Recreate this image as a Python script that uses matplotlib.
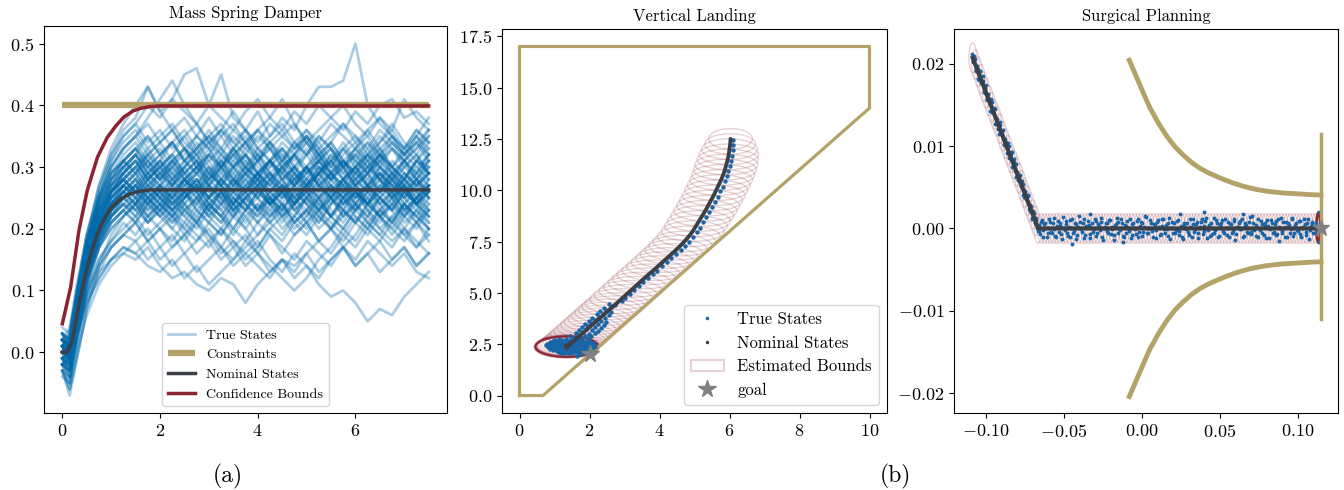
import matplotlib
matplotlib.use('Agg')
from matplotlib import pyplot as plt
from matplotlib.patches import Ellipse, Patch
from matplotlib.lines import Line2D
import numpy as np

plt.rcParams['font.family'] = ['cmr10']
plt.rcParams['mathtext.fontset'] = 'cm'
plt.rcParams['axes.formatter.use_mathtext'] = True

BLUE = '#0069aa'
DOT_BLUE = '#1a64a8'
GOLD = '#b3a369'
GRAY = '#3b4047'
RED = '#8b2332'
STAR = '#808080'

# ---------------- mass spring damper (values x 0.01) ----------------
msd_t = [0, 0.15, 0.3, 0.5, 0.75, 1.0, 1.25, 1.5, 1.75, 2.0, 2.25, 2.5, 2.75, 3.0, 3.25, 3.5,
         3.75, 4.0, 4.25, 4.5, 4.75, 5.0, 5.25, 5.5, 5.75, 6.0, 6.25, 6.5, 6.75, 7.0, 7.25, 7.5]
msd_true = [
    [2, 1, 8, 16, 23, 28, 31, 33, 35, 32, 34, 36, 33, 35, 37, 34, 36, 33, 35, 38, 36, 40, 43, 43, 44, 50, 40, 37, 35, 33, 36, 34],
    [0, 3, 10, 19, 26, 32, 36, 38, 43, 39, 41, 45, 46, 40, 45, 38, 36, 39, 35, 37, 34, 36, 33, 35, 37, 34, 36, 33, 35, 32, 34, 36],
    [-2, -5, 2, 8, 12, 15, 17, 16, 18, 15, 17, 19, 16, 18, 15, 17, 14, 16, 13, 15, 12, 14, 11, 9, 10, 8, 5, 7, 6, 9, 11, 13],
    [-3, -6, 0, 6, 11, 14, 16, 15, 17, 14, 12, 13, 11, 10, 12, 11, 8, 11, 13, 15, 14, 16, 13, 15, 17, 14, 16, 18, 15, 17, 14, 16],
    [1, -2, 4, 10, 14, 17, 19, 18, 20, 17, 19, 16, 18, 20, 17, 15, 18, 16, 19, 17, 15, 18, 16, 14, 17, 15, 18, 16, 14, 16, 13, 12],
    [3, 2, 9, 18, 25, 31, 35, 37, 40, 38, 41, 39, 37, 40, 38, 36, 39, 41, 38, 36, 39, 37, 40, 38, 36, 39, 37, 40, 41, 38, 39, 37],
    [0, -1, 6, 14, 21, 26, 29, 31, 28, 30, 32, 29, 31, 27, 30, 33, 30, 28, 31, 29, 32, 30, 27, 29, 31, 28, 30, 32, 29, 31, 28, 30],
    [-1, -3, 4, 12, 18, 23, 26, 28, 25, 27, 29, 26, 28, 25, 27, 24, 27, 29, 26, 28, 25, 27, 29, 26, 24, 27, 25, 28, 26, 29, 27, 25],
    [2, 0, 6, 13, 19, 22, 24, 23, 25, 22, 24, 26, 23, 21, 24, 22, 25, 23, 26, 24, 21, 23, 25, 22, 24, 26, 23, 21, 24, 22, 25, 23],
    [-2, -4, 2, 9, 15, 18, 20, 22, 19, 21, 23, 20, 18, 21, 19, 22, 20, 17, 20, 22, 19, 21, 18, 20, 23, 21, 19, 22, 20, 18, 21, 19],
    [4, 3, 10, 17, 24, 29, 31, 33, 30, 32, 34, 31, 33, 35, 32, 30, 33, 31, 34, 32, 29, 32, 34, 31, 33, 30, 32, 35, 33, 31, 34, 32],
    [1, -1, 5, 13, 20, 24, 27, 25, 28, 30, 27, 29, 26, 28, 31, 28, 26, 29, 27, 25, 28, 30, 27, 29, 26, 28, 31, 28, 26, 29, 27, 29],
    [-3, -7, -1, 7, 14, 19, 22, 24, 26, 24, 22, 25, 27, 24, 26, 23, 25, 28, 25, 23, 26, 24, 27, 25, 22, 25, 27, 24, 26, 23, 25, 27],
    [0, -2, 3, 9, 14, 17, 19, 21, 18, 20, 17, 19, 22, 19, 17, 20, 18, 21, 19, 16, 19, 21, 18, 20, 17, 19, 22, 20, 18, 20, 17, 19],
    [2, 4, 11, 19, 26, 31, 34, 36, 33, 35, 37, 34, 32, 35, 33, 36, 34, 31, 34, 36, 33, 35, 32, 34, 37, 35, 33, 36, 34, 32, 35, 33],
    [-1, 0, 7, 15, 21, 25, 27, 26, 24, 27, 25, 28, 26, 23, 26, 28, 25, 27, 24, 26, 29, 26, 24, 27, 25, 23, 26, 28, 25, 27, 24, 26],
    [3, 1, 7, 14, 18, 21, 23, 21, 24, 22, 20, 23, 21, 24, 22, 19, 22, 24, 21, 23, 20, 22, 25, 22, 20, 23, 21, 19, 22, 24, 21, 23],
    [-2, -3, 3, 11, 19, 25, 28, 30, 32, 29, 31, 28, 30, 33, 30, 28, 31, 29, 27, 30, 32, 29, 31, 28, 30, 27, 29, 32, 30, 28, 31, 33],
    [1, -1, 5, 12, 17, 20, 22, 24, 21, 23, 20, 18, 21, 19, 16, 18, 15, 17, 20, 18, 21, 19, 22, 20, 18, 21, 23, 20, 22, 19, 21, 18],
    [0, 2, 8, 16, 23, 27, 29, 32, 30, 28, 31, 33, 30, 32, 29, 27, 30, 28, 26, 29, 27, 30, 28, 31, 29, 32, 30, 28, 25, 28, 26, 29],
    [-4, -5, 1, 10, 17, 22, 25, 27, 29, 26, 28, 25, 27, 30, 27, 25, 28, 26, 29, 27, 24, 27, 29, 26, 28, 25, 27, 30, 27, 25, 28, 26],
    [2, 1, 7, 14, 20, 23, 25, 27, 24, 26, 23, 25, 28, 25, 23, 26, 24, 22, 25, 27, 24, 26, 23, 25, 28, 26, 24, 22, 25, 27, 24, 26],
    [-1, -3, 3, 10, 15, 18, 21, 19, 22, 20, 18, 21, 19, 17, 20, 18, 16, 14, 12, 15, 13, 16, 18, 16, 19, 17, 20, 18, 21, 19, 17, 20],
    [1, 2, 9, 18, 27, 33, 37, 40, 43, 39, 36, 38, 35, 33, 36, 34, 32, 35, 33, 31, 34, 32, 35, 33, 30, 33, 31, 34, 36, 33, 35, 38],
    [3, 0, 6, 14, 21, 26, 28, 26, 29, 27, 30, 28, 26, 29, 27, 30, 32, 29, 27, 30, 28, 26, 29, 31, 28, 30, 27, 29, 26, 28, 31, 29],
    [-2, -2, 4, 11, 17, 21, 23, 25, 22, 24, 21, 23, 25, 22, 20, 23, 25, 23, 21, 24, 22, 25, 23, 20, 22, 24, 21, 23, 26, 23, 21, 24],
    [0, 1, 8, 17, 24, 29, 31, 29, 32, 34, 31, 33, 30, 32, 35, 32, 30, 33, 31, 29, 32, 34, 31, 33, 30, 32, 29, 31, 34, 32, 30, 32],
    [2, -1, 3, 8, 12, 15, 16, 18, 15, 17, 14, 16, 13, 15, 17, 14, 16, 18, 15, 13, 16, 14, 12, 15, 17, 14, 16, 13, 15, 17, 14, 16],
    [-1, -4, 2, 11, 18, 23, 26, 24, 27, 25, 28, 26, 29, 27, 30, 32, 34, 36, 38, 41, 37, 34, 31, 28, 30, 27, 29, 26, 28, 25, 27, 29],
    [1, 3, 10, 18, 25, 30, 33, 35, 37, 34, 36, 33, 35, 38, 35, 37, 34, 36, 33, 35, 37, 34, 36, 38, 40, 37, 35, 38, 36, 41, 38, 36],
    [0, 0, 5, 12, 18, 22, 24, 22, 25, 23, 26, 24, 21, 24, 22, 25, 23, 26, 24, 22, 25, 23, 21, 24, 26, 23, 25, 22, 24, 27, 24, 22],
    [-3, -6, -1, 7, 13, 17, 19, 21, 18, 20, 22, 19, 21, 18, 20, 17, 19, 16, 14, 12, 10, 12, 15, 17, 20, 18, 21, 19, 17, 20, 18, 16],
    [2, 1, 7, 15, 22, 26, 28, 30, 27, 29, 31, 28, 30, 27, 29, 32, 29, 31, 28, 30, 27, 29, 31, 29, 27, 30, 32, 29, 27, 30, 28, 31],
    [-1, -2, 4, 12, 19, 23, 25, 27, 25, 23, 26, 28, 25, 27, 24, 26, 28, 25, 23, 26, 24, 27, 25, 28, 26, 24, 27, 25, 23, 26, 28, 25],
    [0, 2, 9, 17, 25, 30, 33, 35, 38, 41, 44, 40, 37, 34, 36, 33, 35, 32, 34, 31, 33, 35, 32, 34, 31, 33, 30, 32, 35, 32, 34, 31],
    [1, -2, 3, 9, 13, 15, 17, 16, 14, 13, 15, 12, 14, 11, 13, 15, 17, 19, 21, 19, 22, 20, 23, 21, 19, 22, 20, 23, 21, 24, 22, 20],
    [1, -1, 6, 14, 21, 25, 27, 29, 26, 28, 25, 27, 29, 26, 28, 30, 27, 25, 28, 26, 29, 27, 30, 28, 25, 28, 26, 29, 27, 24, 27, 29],
    [-2, -1, 5, 13, 20, 24, 26, 24, 27, 25, 23, 26, 24, 27, 25, 22, 25, 27, 24, 26, 23, 25, 28, 25, 27, 24, 26, 23, 25, 28, 26, 24],
    [0, 1, 7, 15, 22, 26, 29, 31, 28, 31, 29, 27, 30, 28, 31, 29, 26, 29, 31, 28, 30, 27, 29, 32, 29, 27, 30, 28, 31, 29, 27, 30],
    [3, 2, 8, 15, 21, 24, 27, 25, 23, 26, 24, 22, 25, 23, 26, 24, 21, 24, 22, 25, 27, 24, 22, 25, 23, 26, 24, 27, 25, 22, 24, 26],
    [1, 0, 8, 17, 24, 28, 30, 32, 29, 31, 28, 30, 33, 30, 27, 29, 32, 30, 28, 31, 29, 26, 29, 31, 28, 30, 33, 30, 28, 31, 29, 27],
    [-2, -3, 5, 14, 21, 25, 27, 25, 28, 26, 24, 27, 25, 28, 26, 23, 26, 28, 25, 27, 24, 26, 29, 27, 25, 27, 24, 26, 28, 25, 23, 26],
    [2, 1, 9, 18, 25, 29, 32, 34, 31, 33, 30, 32, 35, 33, 30, 32, 34, 31, 33, 30, 32, 35, 32, 30, 33, 31, 34, 32, 29, 31, 33, 35],
    [0, -2, 6, 13, 18, 21, 23, 21, 24, 22, 25, 23, 21, 24, 22, 20, 23, 21, 24, 26, 23, 21, 24, 22, 20, 23, 25, 22, 24, 21, 23, 20],
    [-1, 0, 7, 16, 23, 27, 30, 28, 31, 29, 27, 30, 32, 29, 31, 28, 26, 29, 31, 28, 30, 27, 29, 32, 30, 27, 29, 31, 28, 30, 32, 29],
    [3, 2, 9, 17, 23, 26, 28, 30, 27, 29, 26, 28, 30, 27, 25, 28, 30, 27, 29, 26, 28, 30, 27, 25, 28, 30, 27, 29, 26, 28, 25, 27],
    [-3, -5, 3, 12, 19, 23, 25, 23, 26, 24, 22, 25, 27, 24, 22, 25, 23, 26, 24, 21, 24, 26, 23, 25, 22, 24, 27, 25, 23, 26, 24, 22],
    [1, 2, 10, 19, 27, 32, 35, 37, 34, 36, 33, 35, 37, 34, 36, 39, 36, 34, 37, 35, 33, 36, 34, 37, 35, 33, 36, 38, 35, 33, 36, 34],
    [0, -1, 6, 15, 21, 25, 27, 29, 26, 24, 27, 25, 28, 26, 24, 27, 29, 26, 28, 25, 27, 30, 27, 25, 28, 26, 24, 27, 29, 26, 28, 25],
    [2, 0, 7, 15, 22, 26, 29, 27, 30, 28, 31, 29, 27, 30, 28, 31, 29, 27, 30, 32, 29, 27, 30, 28, 31, 29, 27, 30, 28, 26, 29, 31],
    [-2, -4, 4, 13, 20, 24, 26, 28, 25, 27, 24, 26, 23, 25, 28, 25, 23, 26, 24, 27, 25, 22, 25, 27, 24, 26, 23, 25, 27, 24, 26, 23],
    [1, 0, 8, 16, 23, 27, 30, 32, 29, 31, 34, 31, 29, 32, 30, 33, 31, 28, 31, 33, 30, 32, 29, 31, 34, 31, 29, 32, 30, 33, 31, 34],
    [0, 1, 7, 14, 20, 23, 25, 24, 22, 25, 23, 21, 24, 22, 25, 23, 20, 23, 25, 22, 24, 21, 23, 26, 23, 21, 24, 22, 20, 23, 25, 22],
    [-1, -2, 5, 14, 22, 27, 30, 32, 35, 32, 34, 31, 33, 36, 33, 31, 34, 32, 30, 33, 31, 34, 32, 29, 32, 34, 31, 33, 30, 32, 35, 32],
    [2, 1, 8, 16, 22, 26, 28, 26, 29, 27, 25, 28, 26, 29, 27, 24, 27, 29, 26, 28, 25, 27, 30, 27, 25, 28, 26, 29, 27, 25, 28, 26],
    [-2, -1, 6, 14, 20, 24, 26, 28, 26, 29, 27, 24, 27, 25, 28, 26, 24, 27, 29, 26, 28, 25, 27, 24, 26, 29, 27, 25, 28, 26, 24, 27],
    [3, 1, 8, 16, 21, 24, 26, 24, 27, 25, 23, 26, 24, 27, 25, 28, 26, 23, 26, 24, 27, 25, 23, 26, 28, 25, 27, 24, 26, 23, 25, 28],
    [0, -3, 4, 12, 19, 24, 27, 29, 31, 28, 30, 27, 29, 31, 28, 26, 29, 31, 28, 30, 27, 29, 32, 29, 27, 30, 28, 31, 29, 27, 30, 28],
    [1, 2, 9, 17, 24, 28, 31, 33, 30, 32, 29, 31, 34, 31, 33, 30, 32, 29, 31, 33, 30, 28, 31, 33, 30, 32, 34, 31, 33, 30, 32, 29],
    [-1, 0, 6, 13, 19, 22, 24, 26, 23, 25, 22, 24, 26, 23, 21, 24, 26, 23, 25, 22, 24, 27, 24, 22, 25, 23, 26, 24, 21, 24, 22, 25],
    [2, 0, 7, 16, 23, 28, 31, 29, 32, 30, 28, 31, 29, 32, 30, 27, 30, 32, 29, 31, 28, 30, 33, 30, 28, 31, 29, 32, 30, 28, 31, 29],
    [-3, -4, 3, 11, 17, 21, 23, 25, 22, 24, 26, 23, 25, 22, 24, 27, 24, 22, 25, 23, 26, 24, 21, 24, 27, 24, 22, 25, 23, 26, 24, 21],
    [0, 1, 8, 17, 25, 30, 33, 35, 32, 34, 36, 33, 31, 34, 32, 35, 33, 36, 34, 31, 34, 32, 35, 33, 30, 33, 35, 32, 34, 31, 33, 36],
    [1, -1, 6, 14, 20, 24, 26, 27, 25, 27, 24, 26, 28, 25, 27, 24, 26, 28, 25, 23, 26, 28, 25, 27, 24, 26, 29, 26, 24, 27, 25, 28],
    [-1, -2, 5, 13, 19, 22, 24, 22, 25, 23, 21, 24, 22, 25, 23, 20, 23, 25, 22, 24, 21, 23, 26, 23, 21, 24, 22, 25, 23, 20, 23, 21],
    [2, 3, 10, 18, 24, 28, 30, 32, 29, 31, 28, 30, 32, 29, 27, 30, 32, 29, 31, 28, 30, 33, 30, 28, 31, 29, 32, 30, 28, 31, 29, 32],
    [0, -1, 7, 15, 22, 26, 28, 26, 28, 25, 27, 30, 27, 25, 28, 26, 29, 27, 24, 27, 25, 28, 26, 29, 27, 25, 28, 26, 29, 27, 24, 27],
    [-2, -3, 4, 13, 21, 26, 29, 31, 28, 30, 32, 29, 31, 28, 30, 33, 30, 28, 31, 29, 27, 30, 32, 29, 31, 28, 30, 33, 30, 28, 31, 30],
    [1, 0, 6, 13, 19, 23, 25, 27, 24, 26, 23, 25, 27, 24, 26, 23, 25, 27, 24, 26, 23, 25, 28, 25, 23, 26, 24, 27, 25, 22, 25, 27],
    [3, 2, 9, 18, 25, 29, 31, 33, 31, 28, 30, 33, 31, 29, 32, 30, 28, 31, 33, 30, 32, 29, 31, 34, 31, 29, 32, 30, 33, 31, 28, 31],
    [-1, -3, 4, 12, 18, 22, 25, 23, 21, 24, 22, 20, 23, 21, 19, 22, 24, 21, 23, 20, 22, 25, 22, 20, 23, 21, 24, 22, 19, 22, 20, 23],
    [0, 1, 8, 16, 23, 27, 29, 31, 28, 30, 27, 29, 31, 28, 30, 27, 29, 32, 29, 27, 30, 28, 31, 29, 26, 29, 31, 28, 30, 27, 29, 32],
    [2, 1, 7, 15, 22, 26, 28, 30, 33, 30, 32, 35, 32, 34, 31, 33, 36, 33, 31, 34, 32, 35, 33, 30, 33, 35, 32, 34, 37, 34, 32, 35],
    [-2, 0, 6, 14, 21, 25, 28, 26, 24, 27, 25, 28, 26, 23, 26, 24, 27, 25, 28, 26, 24, 27, 25, 22, 25, 27, 24, 26, 29, 26, 24, 27],
    [1, -1, 5, 12, 17, 20, 22, 24, 21, 23, 25, 22, 20, 23, 21, 24, 22, 19, 22, 24, 21, 23, 20, 22, 25, 22, 20, 23, 21, 24, 22, 20],
]
msd_con_t = [0, 7.5]
msd_con_y = [0.4, 0.4]
msd_nom_t = [0, 0.1, 0.2, 0.3, 0.4, 0.5, 0.6, 0.7, 0.8, 0.9, 1.0, 1.2, 1.4, 1.6, 1.8, 2.0, 7.5]
msd_nom_y = [0, 0, 0.018, 0.06, 0.1, 0.134, 0.163, 0.188, 0.207, 0.222, 0.234, 0.249, 0.257, 0.261, 0.263, 0.263, 0.263]
msd_conf_t = [0, 0.17, 0.34, 0.51, 0.72, 0.92, 1.1, 1.26, 1.45, 1.6, 1.8, 2.0, 7.5]
msd_conf_y = [0.046, 0.105, 0.197, 0.262, 0.316, 0.348, 0.367, 0.381, 0.391, 0.395, 0.398, 0.399, 0.399]

# ---------------- vertical landing ----------------
land_con_x = [0, 0.67, 10, 10, 0, 0]
land_con_y = [0, 0, 14, 17, 17, 0]
land_nom_x = [6.03, 6.02, 6.00, 5.98, 5.95, 5.91, 5.87, 5.82, 5.76, 5.69,
              5.62, 5.55, 5.47, 5.39, 5.31, 5.22, 5.13, 5.04, 4.95, 4.84,
              4.71, 4.60, 4.48, 4.35, 4.22, 4.09, 3.96, 3.83, 3.69, 3.56,
              3.43, 3.30, 3.17, 3.04, 2.91, 2.78, 2.68, 2.58, 2.48, 2.38,
              2.28, 2.18, 2.08, 1.98, 1.88, 1.78, 1.70, 1.63, 1.56, 1.50,
              1.45, 1.41, 1.38, 1.37, 1.36, 1.35, 1.35, 1.34, 1.36, 1.35,
              1.34, 1.36, 1.35, 1.35, 1.37, 1.33, 1.36, 1.34, 1.38, 1.35,
              1.33, 1.37, 1.35, 1.36]
land_nom_y = [12.5, 12.25, 12.0, 11.75, 11.5, 11.25, 11.0, 10.75, 10.5, 10.25,
              10.0, 9.75, 9.5, 9.25, 9.0, 8.75, 8.5, 8.25, 8.0, 7.75,
              7.5, 7.3, 7.1, 6.9, 6.7, 6.5, 6.3, 6.1, 5.9, 5.7,
              5.5, 5.3, 5.1, 4.9, 4.7, 4.5, 4.35, 4.2, 4.05, 3.9,
              3.75, 3.6, 3.45, 3.3, 3.15, 3.0, 2.88, 2.77, 2.67, 2.58,
              2.51, 2.46, 2.42, 2.40, 2.39, 2.38, 2.37, 2.38, 2.39, 2.37,
              2.38, 2.36, 2.39, 2.38, 2.41, 2.35, 2.43, 2.34, 2.40, 2.36,
              2.42, 2.37, 2.44, 2.33]
land_bound_w = [1.25, 1.45, 1.6, 1.7, 1.75, 1.8, 1.8, 1.8, 1.8, 1.8,
                1.8, 1.8, 1.8, 1.8, 1.8, 1.8, 1.8, 1.8, 1.8, 1.8,
                1.8, 1.8, 1.8, 1.8, 1.8, 1.8, 1.8, 1.8, 1.8, 1.8,
                1.8, 1.8, 1.8, 1.8, 1.8, 1.8, 1.8, 1.8, 1.8, 1.8,
                1.8, 1.8, 1.8, 1.8, 1.8, 1.8, 1.8, 1.8, 1.8, 1.8,
                1.8, 1.8, 1.8, 1.8, 1.8, 1.8, 1.8, 1.8, 1.8, 1.8,
                1.8, 1.8, 1.8, 1.8, 1.78, 1.82, 1.76, 1.8, 1.78, 1.82,
                1.8, 1.76, 1.8, 1.82]
land_true_x = [1.02, 1.21, 1.43, 1.58, 1.79, 0.86, 1.07, 1.24, 1.47, 1.66, 1.84, 2.01,
               0.79, 0.96, 1.16, 1.33, 1.56, 1.74, 1.94, 2.09, 0.77, 0.93, 1.11, 1.31,
               1.49, 1.71, 1.89, 2.04, 2.16, 0.81, 0.98, 1.17, 1.39, 1.57, 1.79, 1.97,
               2.13, 0.86, 1.04, 1.26, 1.44, 1.66, 1.86, 2.04, 0.96, 1.14, 1.36, 1.54,
               1.76, 1.94, 1.12, 1.31, 1.52, 1.69, 1.91, 2.08, 1.27, 1.46, 1.71, 1.63,
               2.13,
               1.12, 1.32, 1.52, 1.70, 0.95, 1.15, 1.35, 1.56, 1.75, 1.93,
               0.87, 1.06, 1.26, 1.44, 1.65, 1.84, 2.04, 0.84, 1.02, 1.22, 1.40, 1.60, 1.80, 1.99, 2.12,
               0.86, 1.03, 1.21, 1.42, 1.62, 1.82, 2.00, 2.10, 0.90, 1.09, 1.30, 1.50, 1.71, 1.90, 2.08,
               1.00, 1.20, 1.40, 1.60, 1.81, 2.00, 1.06, 1.24, 1.43, 1.63, 1.82, 2.00,
               1.18, 1.38, 1.58, 1.80, 1.98,
               1.55, 1.75, 1.95, 1.45, 1.68, 1.88, 2.05, 1.60, 1.80, 1.98, 2.15, 1.70,
               1.90, 2.08, 2.25, 1.78, 1.97, 2.17, 2.32, 1.86, 2.05, 2.24, 2.40, 1.98,
               2.15, 2.33, 2.47, 2.08, 2.27, 2.45, 2.20, 2.38, 2.55, 2.30, 2.48, 2.62,
               2.42, 2.60, 2.55, 2.72,
               2.92, 3.02, 3.15, 3.27, 3.41, 3.53, 3.67, 3.80, 3.94, 4.08, 4.21, 4.34,
               4.47, 4.60, 4.72, 4.84, 4.95, 5.06, 5.15, 5.25, 5.34, 5.42, 5.51, 5.59,
               5.66, 5.73, 5.80, 5.86, 5.92, 5.97, 6.01, 6.04, 6.07, 6.09, 6.10, 6.10]
land_true_y = [2.71, 2.69, 2.72, 2.68, 2.70, 2.61, 2.63, 2.60, 2.64, 2.61, 2.63, 2.60,
               2.53, 2.55, 2.52, 2.56, 2.53, 2.55, 2.52, 2.54, 2.45, 2.47, 2.44, 2.48,
               2.45, 2.47, 2.44, 2.46, 2.43, 2.37, 2.39, 2.36, 2.38, 2.35, 2.39, 2.36,
               2.38, 2.29, 2.31, 2.28, 2.30, 2.27, 2.31, 2.29, 2.21, 2.23, 2.20, 2.22,
               2.19, 2.23, 2.13, 2.15, 2.12, 2.14, 2.11, 2.16, 2.05, 2.07, 2.04, 1.92,
               2.08,
               2.74, 2.75, 2.73, 2.74, 2.66, 2.67, 2.65, 2.66, 2.67, 2.65,
               2.58, 2.59, 2.57, 2.58, 2.59, 2.57, 2.58, 2.50, 2.51, 2.49, 2.50, 2.51, 2.49, 2.50, 2.51,
               2.42, 2.41, 2.43, 2.42, 2.41, 2.43, 2.42, 2.41, 2.34, 2.33, 2.35, 2.34, 2.33, 2.35, 2.34,
               2.25, 2.26, 2.24, 2.25, 2.26, 2.24, 2.17, 2.16, 2.18, 2.17, 2.16, 2.18,
               2.09, 2.08, 2.10, 2.09, 2.08,
               2.80, 2.82, 2.78, 2.90, 2.95, 2.92, 2.88, 3.05, 3.08, 3.02, 3.06, 3.20,
               3.22, 3.18, 3.15, 3.35, 3.38, 3.33, 3.30, 3.50, 3.52, 3.48, 3.45, 3.65,
               3.68, 3.62, 3.60, 3.80, 3.83, 3.78, 3.95, 3.98, 3.93, 4.10, 4.13, 4.08,
               4.27, 4.30, 4.45, 4.42,
               4.58, 4.76, 4.94, 5.14, 5.34, 5.51, 5.71, 5.91, 6.08, 6.29, 6.48, 6.68,
               6.88, 7.08, 7.28, 7.48, 7.70, 7.94, 8.18, 8.44, 8.68, 8.94, 9.18, 9.44,
               9.68, 9.94, 10.18, 10.44, 10.68, 10.94, 11.18, 11.44, 11.68, 11.94, 12.18, 12.44]
land_goal = (2.0, 2.0)

# ---------------- surgical planning (values x 1e-4) ----------------
surg_nom_x = [-1085, -665, 1135]
surg_nom_y = [207, 0, 0]
surg_diag_bound_x = [-1085, -1068, -1050, -1033, -1015, -998, -980, -963, -945, -928, -910, -893, -875,
                     -858, -840, -823, -805, -788, -770, -753, -735, -718, -700, -683, -665]
surg_diag_bound_y = [207, 199, 190, 181, 172, 164, 155, 147, 138, 130, 121, 112, 103,
                     95, 86, 78, 69, 61, 52, 43, 34, 26, 17, 9, 0]
surg_flat_bound_x = [-645, -625, -605, -585, -565, -545, -525, -505, -485, -465, -445, -425, -405, -385,
                     -365, -345, -325, -305, -285, -265, -245, -225, -205, -185, -165, -145, -125, -105,
                     -85, -65, -45, -25, -5, 15, 35, 55, 75, 95, 115, 135, 155, 175, 195, 215, 235, 255,
                     275, 295, 315, 335, 355, 375, 395, 415, 435, 455, 475, 495, 515, 535, 555, 575, 595,
                     615, 635, 655, 675, 695, 715, 735, 755, 775, 795, 815, 835, 855, 875, 895, 915, 935,
                     955, 975, 995, 1015, 1035, 1055, 1075, 1095, 1115, 1135]
surg_end_bound = (1133, 1)
surg_diag_x = [-1088, -1080, -1071, -1063, -1052, -1045, -1036, -1026, -1018, -1009, -999, -991,
               -980, -972, -963, -955, -944, -936, -927, -917, -909, -900, -890, -882, -872, -864,
               -855, -846, -836, -828, -819, -810, -800, -792, -783, -774, -764, -756, -747, -738,
               -728, -720, -711, -702, -692, -684, -676, -668,
               -1084, -1075, -1067, -1057, -1049, -1040, -1031, -1022, -1013, -1004, -995, -986,
               -976, -967, -959, -950, -940, -931, -922, -913, -904, -895, -886, -877, -868, -859,
               -850, -841, -832, -823, -814, -805, -796, -787, -778, -769, -760, -751, -742, -733,
               -724, -715, -706, -697, -688, -679, -671]
surg_diag_y = [212, 202, 206, 191, 194, 180, 191, 176, 179, 164, 174, 157,
               157, 143, 153, 140, 145, 128, 130, 115, 125, 114, 119, 101, 105, 91,
               100, 88, 93, 75, 80, 63, 69, 59, 65, 51, 54, 38, 43, 34,
               39, 21, 27, 13, 19, 6, 10, -3,
               203, 209, 192, 197, 181, 191, 177, 185, 166, 170, 156, 163,
               151, 157, 141, 146, 127, 133, 121, 129, 115, 118, 102, 108, 98, 104,
               86, 90, 74, 84, 70, 78, 59, 62, 52, 58, 40, 46, 36, 40,
               24, 28, 12, 21, 8, 13, 1]
surg_flat_x = [-662, -655, -641, -633, -620, -611, -598, -590, -577, -566, -555, -546, -532, -524,
               -511, -500, -489, -480, -466, -458, -445, -434, -423, -414, -400, -392, -379, -368,
               -357, -348, -334, -326, -313, -302, -291, -282, -268, -260, -247, -236, -225, -216,
               -202, -194, -181, -170, -159, -150, -136, -128, -115, -104, -93, -84, -70, -62, -49,
               -38, -27, -18, -4, 4, 17, 28, 39, 48, 62, 70, 83, 94, 105, 114, 128, 136, 149, 160,
               171, 180, 194, 202, 215, 226, 237, 246, 260, 268, 281, 292, 303, 312, 326, 334, 347,
               358, 369, 378, 392, 400, 413, 424, 435, 444, 458, 466, 479, 490, 501, 510, 524, 532,
               545, 556, 567, 576, 590, 598, 611, 622, 633, 642, 656, 664, 677, 688, 699, 708, 722,
               730, 743, 754, 765, 774, 788, 796, 809, 820, 831, 840, 854, 862, 875, 886, 897, 906,
               920, 928, 941, 952, 963, 972, 986, 994, 1007, 1018, 1029, 1038, 1052, 1060, 1073,
               1084, 1095, 1104, 1118, 1126,
               -450, 400, 1135, 1135, -330, -120, 650, 880]
surg_flat_y = [4, -7, 10, -2, 6, -11, 1, 8, -5, 13, -9, 3, -4, 7, -13, 0, 9, -6, 2, -10, 12, -3,
               5, -8, 15, -1, 6, -12, 3, 9, -7, 1, -4, 11, -9, 5, -2, 8, -14, 2, 7, -5, 10, -1,
               -8, 4, 13, -6, 0, 6, -10, 3, 9, -3, -12, 5, 1, -7, 11, -4, 8, -9, 2, 14, -6, 0,
               7, -11, 4, -2, 10, -8, 3, 12, -5, -1, 6, -13, 8, 1, -6, 9, -3, 17, -10, 4, -1, 7,
               -8, 2, 11, -4, 5, -12, 0, 8, -7, 3, 13, -2, -9, 6, 1, -5, 10, -11, 4, 7, -3, 12,
               -8, 0, 5, -6, 9, -14, 2, 6, -1, 11, -9, 3, -4, 8, -7, 15, -2, 4, -10, 1, 9, -5,
               7, -12, 3, -1, 10, -6, 5, -8, 12, 0, -3, 8, -11, 2, 6, -5, 13, -9, 4, -2, 9, -7,
               1, 11, -4, 6, -13, 3, 8, -5, 7, -2,
               -19, 20, 20, -17, 18, -16, 17, -15]
surg_flat2_x = [-658, -646, -637, -625, -615, -603, -594, -582, -571, -561, -550, -539, -528, -518,
                -506, -495, -485, -473, -462, -452, -440, -429, -419, -408, -396, -386, -374, -363,
                -353, -341, -330, -320, -308, -297, -287, -275, -264, -254, -242, -231, -221, -209,
                -198, -188, -176, -165, -155, -143, -132, -122, -110, -99, -89, -77, -66, -56, -44,
                -33, -23, -11, 0, 10, 22, 33, 43, 55, 66, 76, 88, 99, 109, 121, 132, 142, 154, 165,
                175, 187, 198, 208, 220, 231, 241, 253, 264, 274, 286, 297, 307, 319, 330, 340, 352,
                363, 373, 385, 396, 406, 418, 429, 439, 451, 462, 472, 484, 495, 505, 517, 528, 538,
                550, 561, 571, 583, 594, 604, 616, 627, 637, 649, 660, 670, 682, 693, 703, 715, 726,
                736, 748, 759, 769, 781, 792, 802, 814, 825, 835, 847, 858, 868, 880, 891, 901, 913,
                924, 934, 946, 957, 967, 979, 990, 1000, 1012, 1023, 1033, 1045, 1056, 1066, 1078,
                1089, 1099, 1111, 1122, 1130]
surg_flat2_y = [-3, 8, -10, 5, 1, -6, 12, -4, 7, -1, -11, 9, 3, -7, 14, -2, 5, -9, 10, 0, -5, 6,
                -13, 2, 8, -4, 11, -8, 1, 4, -12, 7, -1, 9, -6, 3, 13, -10, 0, 6, -3, 10, -7, 2,
                -14, 5, 8, -2, 11, -9, 4, -5, 1, 12, -8, 6, -1, 9, -11, 3, 7, -4, 15, -6, 0, 10,
                -3, 5, -12, 8, 2, -7, 11, -1, 4, -9, 13, 0, -5, 7, -2, 10, -8, 3, -13, 6, 1, -4,
                12, -10, 5, -1, 8, -6, 2, 11, -3, 9, -12, 4, 0, -7, 13, -2, 6, -9, 3, 10, -5, 1,
                8, -11, 5, -3, 12, -7, 2, 9, -1, -10, 6, 4, -6, 14, -4, 7, 0, -9, 11, -2, 5, -8,
                3, 10, -12, 1, 6, -4, 9, -7, 2, 13, -5, 0, 8, -10, 4, -1, 11, -6, 7, -3, 9, -11,
                2, 5, -8, 12, -2, 6, -5, 3]
surg_con_x = [-80, -46, -12, 20, 53, 80, 106, 133, 160, 213, 266, 320, 373, 427, 481, 534, 587, 640,
              694, 748, 801, 855, 908, 962, 1015, 1080, 1150]
surg_con_up = [204, 189, 174, 160, 146, 137, 128, 120, 112, 99, 89, 80, 73, 67.5, 63, 58.8, 55, 51.8,
               49, 46.9, 45.2, 44, 43, 42.4, 41.8, 41, 40.5]
surg_con_lo = [-204, -189, -174, -160, -146, -137, -128, -120, -112, -99, -89, -80, -73, -67.5, -63, -58.8,
               -55, -51.8, -49, -46.9, -45.2, -44, -43, -42.4, -41.8, -41, -40.5]
surg_wall_x = [1150, 1150]
surg_wall_y = [-110, 115]
surg_goal = (1150, 0)

S = 1e-4

fig = plt.figure(figsize=(13.44, 4.9), dpi=100)
ax1 = fig.add_axes([44 / 1344, 77 / 490, 403 / 1344, 387 / 490])
ax2 = fig.add_axes([502 / 1344, 77 / 490, 385 / 1344, 384 / 490])
ax3 = fig.add_axes([954 / 1344, 77 / 490, 384 / 1344, 384 / 490])

# panel (a)
for i, row in enumerate(msd_true):
    ax1.plot(msd_t, np.array(row) / 100, color=BLUE, alpha=0.33, lw=2.0,
             label='True States' if i == 0 else None)
ax1.plot(msd_con_t, msd_con_y, color=GOLD, lw=4.5, label='Constraints', solid_capstyle='butt')
ax1.plot(msd_nom_t, msd_nom_y, color=GRAY, lw=2.5, label='Nominal States')
ax1.plot(msd_conf_t, msd_conf_y, color=RED, lw=2.5, label='Confidence Bounds')
ax1.set_xlim(-0.375, 7.875)
ax1.set_ylim(-0.0985, 0.5285)
ax1.set_xticks([0, 2, 4, 6])
ax1.set_yticks([0.0, 0.1, 0.2, 0.3, 0.4, 0.5])
ax1.set_title('Mass Spring Damper', fontsize=12)
ax1.legend(loc='lower center', fontsize=10)

# panel (b) left
ax2.plot(land_con_x, land_con_y, color=GOLD, lw=2.3)
for x, y, w in zip(land_nom_x, land_nom_y, land_bound_w):
    ax2.add_patch(Ellipse((x, y), w, 1.0, fill=False, edgecolor=RED, alpha=0.2, lw=1.0))
ax2.plot(land_true_x, land_true_y, ls='none', marker='o', ms=3.2, mew=0, color=DOT_BLUE)
ax2.plot(land_nom_x, land_nom_y, color=GRAY, lw=2.8, solid_capstyle='round')
ax2.plot([land_goal[0]], [land_goal[1]], ls='none', marker='*', ms=13, color=STAR)
ax2.set_xlim(-0.5, 10.5)
ax2.set_ylim(-0.85, 17.85)
ax2.set_xticks([0, 2, 4, 6, 8, 10])
ax2.set_yticks([0.0, 2.5, 5.0, 7.5, 10.0, 12.5, 15.0, 17.5])
ax2.set_title('Vertical Landing', fontsize=12)
handles = [Line2D([], [], ls='none', marker='.', ms=3, color=DOT_BLUE),
           Line2D([], [], ls='none', marker='.', ms=3, color=GRAY),
           Patch(facecolor='none', edgecolor=RED, alpha=0.2, lw=1.5),
           Line2D([], [], ls='none', marker='*', ms=13, color=STAR)]
ax2.legend(handles, ['True States', 'Nominal States', 'Estimated Bounds', 'goal'],
           loc='lower right', fontsize=12)

# panel (b) right
for x, y in zip(surg_diag_bound_x, surg_diag_bound_y):
    ax3.add_patch(Ellipse((x * S, y * S), 0.005, 0.0036, fill=False, edgecolor=RED, alpha=0.2, lw=1.0))
for x in surg_flat_bound_x:
    ax3.add_patch(Ellipse((x * S, 0.0), 0.005, 0.0036, fill=False, edgecolor=RED, alpha=0.2, lw=1.0))
ax3.plot(np.array(surg_diag_x) * S, np.array(surg_diag_y) * S, ls='none', marker='o', ms=2.8, mew=0,
         color=DOT_BLUE)
flat = np.array(list(zip(surg_flat_x, surg_flat_y)) + list(zip(surg_flat2_x, surg_flat2_y))) * S
ax3.plot(flat[:, 0], flat[:, 1], ls='none', marker='o', ms=2.8, mew=0, color=DOT_BLUE)
ax3.plot(np.array(surg_nom_x) * S, np.array(surg_nom_y) * S, color=GRAY, lw=3)
ax3.add_patch(Ellipse((surg_end_bound[0] * S, surg_end_bound[1] * S), 0.0024, 0.0036,
                      fill=False, edgecolor=RED, lw=1.8))
ax3.plot(np.array(surg_con_x) * S, np.array(surg_con_up) * S, color=GOLD, lw=3.5)
ax3.plot(np.array(surg_con_x) * S, np.array(surg_con_lo) * S, color=GOLD, lw=3.5)
ax3.plot(np.array(surg_wall_x) * S, np.array(surg_wall_y) * S, color=GOLD, lw=2.5)
ax3.plot([surg_goal[0] * S], [surg_goal[1] * S], ls='none', marker='*', ms=12, color=STAR)
ax3.set_xlim(-0.1205, 0.1259)
ax3.set_ylim(-0.0224, 0.0242)
ax3.set_xticks([-0.10, -0.05, 0.00, 0.05, 0.10])
ax3.set_yticks([-0.02, -0.01, 0.00, 0.01, 0.02])
ax3.set_title('Surgical Planning', fontsize=12)

for ax in (ax1, ax2, ax3):
    ax.tick_params(labelsize=13)

fig.text(228 / 1344, 1 - 476 / 490, '(a)', ha='center', va='center', fontsize=17)
fig.text(895 / 1344, 1 - 476 / 490, '(b)', ha='center', va='center', fontsize=17)

fig.savefig('out.png', dpi=100)
